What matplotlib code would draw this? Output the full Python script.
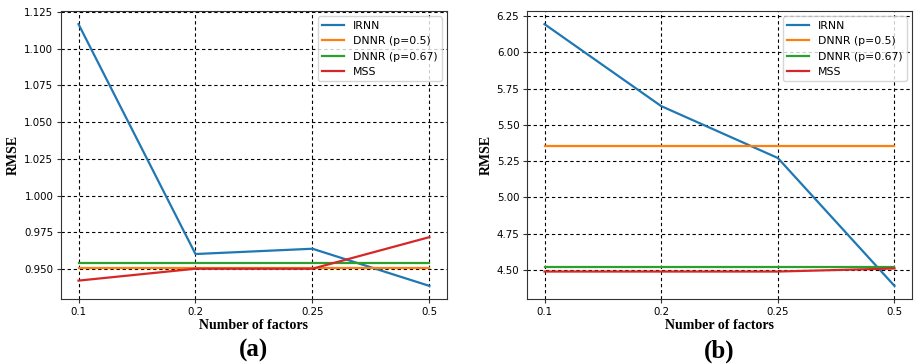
import matplotlib.pyplot as plt

factors = ['0.1', '0.2', '0.25', '0.5']
labels = ['IRNN', 'DNNR (p=0.5)', 'DNNR (p=0.67)', 'MSS']

# (a)
irnn_a = [1.1167, 0.9602, 0.9638, 0.9385]
dnnr05_a = [0.9509, 0.9509, 0.9509, 0.9509]
dnnr067_a = [0.9539, 0.9539, 0.9539, 0.9539]
mss_a = [0.9421, 0.9502, 0.9502, 0.9717]

# (b)
irnn_b = [6.195, 5.63, 5.272, 4.39]
dnnr05_b = [5.354, 5.354, 5.354, 5.354]
dnnr067_b = [4.523, 4.523, 4.523, 4.523]
mss_b = [4.489, 4.489, 4.489, 4.51]

ticks_a = [0.950, 0.975, 1.000, 1.025, 1.050, 1.075, 1.100, 1.125]
ticks_b = [4.50, 4.75, 5.00, 5.25, 5.50, 5.75, 6.00, 6.25]

fig = plt.figure(figsize=(9.14, 3.64), dpi=100)
ax1 = fig.add_axes([0.0667, 0.1786, 0.4223, 0.791])
ax2 = fig.add_axes([0.5766, 0.1786, 0.4212, 0.791])

serif = ['Liberation Serif', 'DejaVu Serif']

for ax, series, tag in [(ax1, [irnn_a, dnnr05_a, dnnr067_a, mss_a], '(a)'),
                        (ax2, [irnn_b, dnnr05_b, dnnr067_b, mss_b], '(b)')]:
    x = list(range(len(factors)))
    for vals, lab in zip(series, labels):
        ax.plot(x, vals, label=lab, linewidth=1.6)
    ax.set_xticks(x)
    ax.set_xticklabels(factors)
    ax.tick_params(labelsize=7.4, color='#333333', length=3, pad=2.5)
    for sp in ax.spines.values():
        sp.set_color('#333333')
    ax.grid(True, color='black', linestyle=(0, (3, 2.5)), linewidth=0.8)
    ax.set_xlabel('Number of factors', family=serif, fontweight='bold', fontsize=10, labelpad=2)
    ax.set_ylabel('RMSE', family=serif, fontweight='bold', fontsize=10, labelpad=3)
    ax.legend(loc='upper right', fontsize=7.8)
    ax.text(0.5, -0.18, tag, transform=ax.transAxes, ha='center', va='center',
            family=serif, fontweight='bold', fontsize=18)

ax1.set_yticks(ticks_a)
ax1.set_yticklabels(['%.3f' % v for v in ticks_a])
ax2.set_yticks(ticks_b)
ax2.set_yticklabels(['%.2f' % v for v in ticks_b])

plt.savefig('out.png', dpi=100)
